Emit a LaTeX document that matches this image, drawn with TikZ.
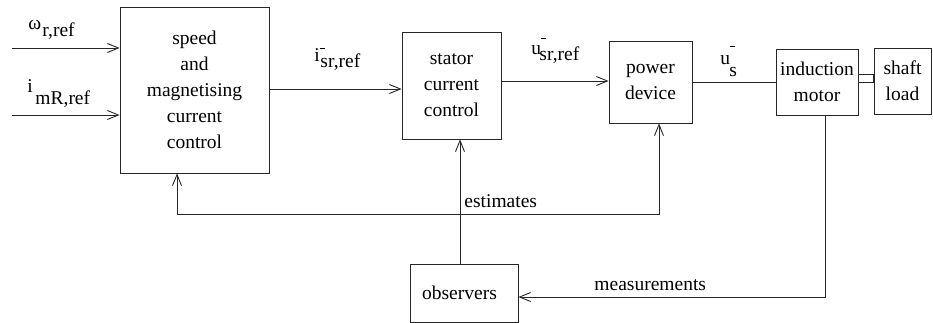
\documentclass[tikz,border=0pt]{standalone}
\usepackage{fontspec}
\setmainfont{Liberation Serif}
\usetikzlibrary{arrows.meta}
\newcommand\mybar[1]{\rlap{\raisebox{#1}{\rule{5pt}{0.8pt}}}}
\begin{document}
\begin{tikzpicture}[x=1pt,y=-1pt,
  line width=0.9pt,
  blk/.style={draw=black!85, line width=0.9pt, inner sep=0pt, align=center,
              font=\fontsize{19.5}{26}\selectfont},
  lbl/.style={inner sep=0pt, anchor=base west, font=\fontsize{19.5}{24}\selectfont},
  arr/.style={draw=black!85, -{Straight Barb[length=11pt,width=9pt,line width=0.9pt]}},
  ln/.style={draw=black!85},
]
\useasboundingbox (0,0) rectangle (933,323);

% blocks
\node[blk, minimum width=149pt, minimum height=166pt] (b1) at (194.5,90)
  {speed\\and\\magnetising\\current\\control};
\node[blk, minimum width=99pt, minimum height=107pt] (b2) at (451.5,85.5)
  {stator\\current\\control};
\node[blk, minimum width=83pt, minimum height=82pt] (b3) at (650.5,82)
  {power\\device};
\node[blk, minimum width=82pt, minimum height=66pt] (b4) at (817,82)
  {induction\\motor};
\node[blk, minimum width=57pt, minimum height=66pt] (b5) at (902.5,81)
  {shaft\\load};
\node[blk, minimum width=108pt, minimum height=58pt] (obs) at (464,293)
  {\hspace*{-9pt}observers};

% coordinates
\coordinate (in1) at (12,48);
\coordinate (in2) at (12,115);
\coordinate (c12) at (0,89);
\coordinate (c23) at (0,81);
\coordinate (c34) at (0,82);
\coordinate (s1) at (0,74);
\coordinate (s2) at (0,82);
\coordinate (j) at (460,214);
\coordinate (e1) at (177,214);
\coordinate (e2) at (659,214);
\coordinate (m) at (825,297);

% connectors
\draw[arr] (in1) -- (b1.west |- in1);
\draw[arr] (in2) -- (b1.west |- in2);
\draw[arr] (b1.east |- c12) -- (b2.west |- c12);
\draw[arr] (b2.east |- c23) -- (b3.west |- c23);
\draw[ln] (b3.east |- c34) -- (b4.west |- c34);
\draw[ln] (b4.east |- s1) rectangle (b5.west |- s2);
\draw[arr] (obs.north -| j) -- (b2.south -| j);
\draw[arr] (j) -- (e1) -- (b1.south -| e1);
\draw[arr] (j) -- (e2) -- (b3.south -| e2);
\draw[arr] (b4.south -| m) -- (m) -- (obs.east |- m);

% labels
\node[lbl] (w) at (28,30) {ω};
\node[lbl] (ws) at (42,37) {r,ref};
\node[lbl] (im) at (27,93) {i};
\node[lbl] (ims) at (35,105) {mR,ref};
\node[lbl] (isr) at (314,62) {i\mybar{13pt}};
\node[lbl] (isrs) at (320,68) {sr,ref};
\node[lbl] (usr) at (531,55) {u\mybar{16pt}};
\node[lbl] (usrs) at (539,61) {sr,ref};
\node[lbl] (us) at (720,65) {u\mybar{18pt}};
\node[lbl] (uss) at (729,77) {s};
\node[lbl] (est) at (464,207) {estimates};
\node[lbl] (meas) at (594,290) {measurements};
\end{tikzpicture}
\end{document}
